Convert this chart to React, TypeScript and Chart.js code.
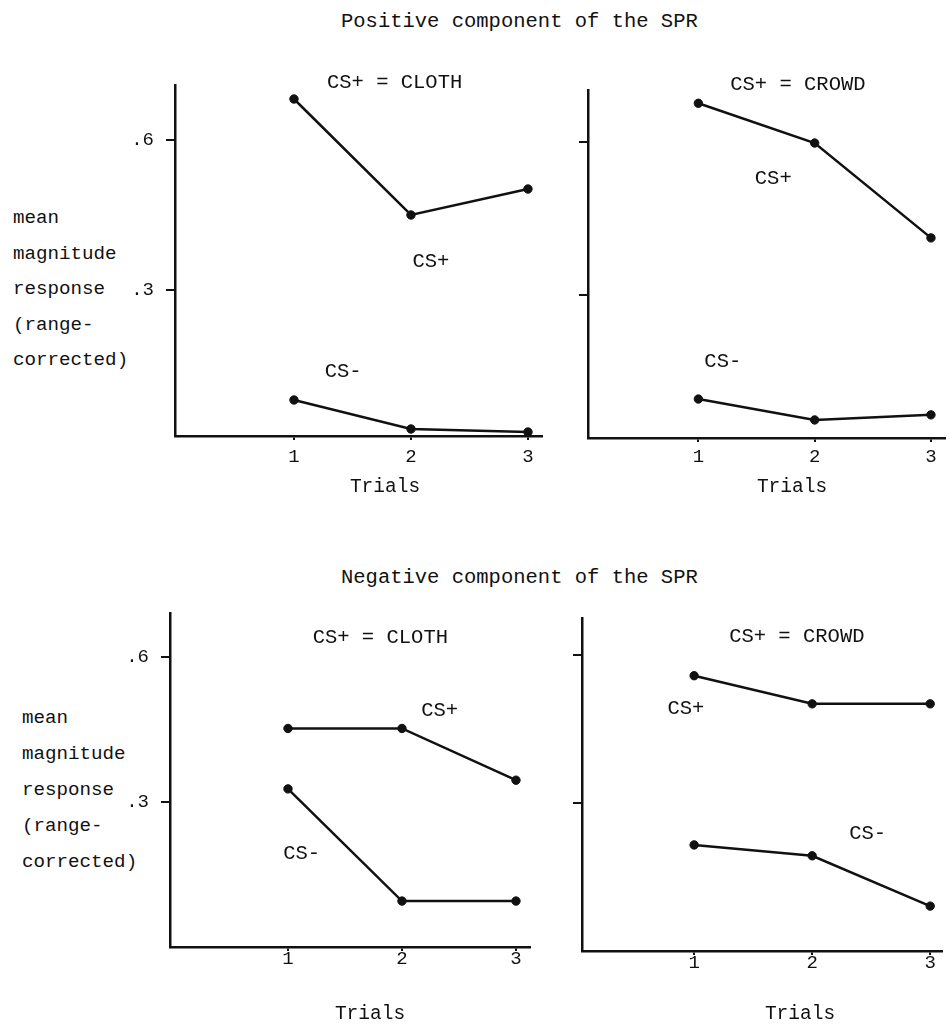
import React, { useEffect, useRef } from 'react';
import { Chart, registerables } from 'chart.js';

Chart.register(...registerables);

const FONT = "'Liberation Mono', 'DejaVu Sans Mono', monospace";
const INK = '#111';

// ---- data ----
const trials = [1, 2, 3];
const yTickValues = [0.3, 0.6];
const yTickLabels = ['.3', '.6'];

const posClothCSPlus = [0.682, 0.45, 0.502];
const posClothCSMinus = [0.08, 0.022, 0.016];
const posCrowdCSPlus = [0.676, 0.598, 0.412];
const posCrowdCSMinus = [0.096, 0.055, 0.065];
const negClothCSPlus = [0.452, 0.452, 0.345];
const negClothCSMinus = [0.327, 0.095, 0.095];
const negCrowdCSPlus = [0.558, 0.501, 0.501];
const negCrowdCSMinus = [0.215, 0.193, 0.091];

const titleTop = 'Positive component of the SPR';
const titleBottom = 'Negative component of the SPR';
const yAxisLines = ['mean', 'magnitude', 'response', '(range-', 'corrected)'];
const xAxisTitle = 'Trials';
const conditionCloth = 'CS+ = CLOTH';
const conditionCrowd = 'CS+ = CROWD';
const labelPlus = 'CS+';
const labelMinus = 'CS-';

type Note = { text: string; x: number; y: number };

type PanelProps = {
  left: number; top: number; width: number; height: number;
  padTop: number; padRight: number; yW: number; xH: number;
  xMin: number; xMax: number; yMin: number; yMax: number;
  xLabelPad: number; showY: boolean;
  plus: number[]; minus: number[];
  notes: Note[];
};

const notePlugin = {
  id: 'panelNotes',
  afterDatasetsDraw(chart: any, _args: any, opts: any) {
    const { ctx, scales } = chart;
    ctx.save();
    ctx.fillStyle = INK;
    ctx.font = `20.5px ${FONT}`;
    ctx.textAlign = 'center';
    ctx.textBaseline = 'middle';
    (opts.items || []).forEach((it: Note) => {
      ctx.fillText(it.text, scales.x.getPixelForValue(it.x), scales.y.getPixelForValue(it.y));
    });
    ctx.restore();
  },
};

function Panel(p: PanelProps) {
  const ref = useRef<HTMLCanvasElement | null>(null);
  useEffect(() => {
    if (!ref.current) return;
    const mk = (vals: number[]) => ({
      data: trials.map((t, i) => ({ x: t, y: vals[i] })),
      borderColor: INK,
      borderWidth: 2.5,
      pointRadius: 4.2,
      pointBackgroundColor: INK,
      pointBorderColor: INK,
      pointBorderWidth: 1,
      tension: 0,
      fill: false,
    });
    const chart = new Chart(ref.current, {
      type: 'line',
      data: { datasets: [mk(p.plus), mk(p.minus)] as any },
      plugins: [notePlugin as any],
      options: {
        responsive: false,
        animation: false,
        devicePixelRatio: 1,
        events: [],
        layout: { padding: { top: p.padTop, right: p.padRight, left: 0, bottom: 0 } },
        plugins: {
          legend: { display: false },
          tooltip: { enabled: false },
          panelNotes: { items: p.notes },
        } as any,
        scales: {
          x: {
            type: 'linear',
            min: p.xMin,
            max: p.xMax,
            afterBuildTicks: (s: any) => { s.ticks = trials.map((v) => ({ value: v })); },
            afterFit: (s: any) => { s.height = p.xH; },
            grid: { display: true, drawOnChartArea: false, drawTicks: true, tickLength: 4, color: INK, lineWidth: 2 },
            border: { display: true, color: INK, width: 2.5 },
            ticks: {
              color: INK,
              font: { family: FONT, size: 19 },
              padding: p.xLabelPad,
              maxRotation: 0,
              autoSkip: false,
              callback: (v: any) => String(v),
            },
          },
          y: {
            type: 'linear',
            min: p.yMin,
            max: p.yMax,
            afterBuildTicks: (s: any) => { s.ticks = yTickValues.map((v) => ({ value: v })); },
            afterFit: (s: any) => { s.width = p.yW; },
            grid: { display: true, drawOnChartArea: false, drawTicks: true, tickLength: 9, color: INK, lineWidth: 2 },
            border: { display: true, color: INK, width: 2.5 },
            ticks: {
              color: INK,
              font: { family: FONT, size: 19 },
              padding: 12,
              autoSkip: false,
              callback: (v: any) => (p.showY ? yTickLabels[yTickValues.indexOf(Number(v))] : ''),
            },
          },
        },
      } as any,
    });
    return () => chart.destroy();
  }, []);
  return (
    <canvas
      ref={ref}
      width={p.width}
      height={p.height}
      style={{ position: 'absolute', left: p.left, top: p.top, width: p.width, height: p.height }}
    />
  );
}

const textBase: React.CSSProperties = {
  position: 'absolute',
  fontFamily: FONT,
  color: INK,
  whiteSpace: 'pre',
};

function Centered({ cx, cy, text, size }: { cx: number; cy: number; text: string; size: number }) {
  return (
    <div style={{ ...textBase, left: cx - 100, top: cy - 12, width: 200, textAlign: 'center', lineHeight: '24px', fontSize: size }}>
      {text}
    </div>
  );
}

export default function App() {
  return (
    <div style={{ position: 'absolute', left: 0, top: 0, width: 950, height: 1027, background: '#fff', overflow: 'hidden' }}>
      <div style={{ ...textBase, left: 341, top: 10, lineHeight: '24px', fontSize: 20.5 }}>{titleTop}</div>
      <div style={{ ...textBase, left: 341, top: 566, lineHeight: '24px', fontSize: 20.5 }}>{titleBottom}</div>

      <div style={{ ...textBase, left: 13, top: 201, lineHeight: '35.5px', fontSize: 19.2 }}>{yAxisLines.join('\n')}</div>
      <div style={{ ...textBase, left: 22, top: 700, lineHeight: '36px', fontSize: 19.2 }}>{yAxisLines.join('\n')}</div>

      <Panel
        left={0} top={60} width={560} height={440}
        padTop={25} padRight={18} yW={175} xH={64}
        xMin={-0.017} xMax={3.12} yMin={0.008} yMax={0.71}
        xLabelPad={5.5} showY={true}
        plus={posClothCSPlus} minus={posClothCSMinus}
        notes={[
          { text: conditionCloth, x: 1.86, y: 0.714 },
          { text: labelPlus, x: 2.17, y: 0.356 },
          { text: labelMinus, x: 1.42, y: 0.136 },
        ]}
      />
      <Panel
        left={560} top={60} width={390} height={440}
        padTop={30} padRight={0} yW={28} xH={62}
        xMin={0.051} xMax={3.119} yMin={0.0196} yMax={0.702}
        xLabelPad={3.5} showY={false}
        plus={posCrowdCSPlus} minus={posCrowdCSMinus}
        notes={[
          { text: conditionCrowd, x: 1.856, y: 0.712 },
          { text: labelPlus, x: 1.644, y: 0.529 },
          { text: labelMinus, x: 1.21, y: 0.169 },
        ]}
      />
      <Panel
        left={0} top={590} width={560} height={437}
        padTop={18} padRight={30} yW={170} xH={80}
        xMin={-0.035} xMax={3.123} yMin={0} yMax={0.69}
        xLabelPad={-3} showY={true}
        plus={negClothCSPlus} minus={negClothCSMinus}
        notes={[
          { text: conditionCloth, x: 1.81, y: 0.639 },
          { text: labelPlus, x: 2.33, y: 0.489 },
          { text: labelMinus, x: 1.12, y: 0.193 },
        ]}
      />
      <Panel
        left={560} top={590} width={390} height={437}
        padTop={28} padRight={8} yW={22} xH={76}
        xMin={0.05} xMax={3.1} yMin={0} yMax={0.675}
        xLabelPad={-3} showY={false}
        plus={negCrowdCSPlus} minus={negCrowdCSMinus}
        notes={[
          { text: conditionCrowd, x: 1.87, y: 0.637 },
          { text: labelPlus, x: 0.93, y: 0.491 },
          { text: labelMinus, x: 2.47, y: 0.239 },
        ]}
      />

      <Centered cx={385} cy={487} text={xAxisTitle} size={19.5} />
      <Centered cx={792} cy={487} text={xAxisTitle} size={19.5} />
      <Centered cx={370} cy={1014} text={xAxisTitle} size={19.5} />
      <Centered cx={800} cy={1014} text={xAxisTitle} size={19.5} />
    </div>
  );
}
